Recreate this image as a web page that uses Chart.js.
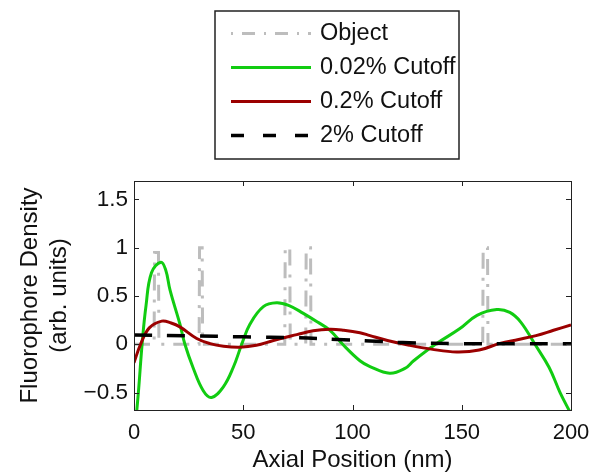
<!DOCTYPE html>
<html>
<head>
<meta charset="utf-8">
<script src="https://cdn.jsdelivr.net/npm/chart.js@4"></script>
<style>
  html, body { margin: 0; padding: 0; background: #fff; }
  canvas { display: block; }
</style>
</head>
<body>
<canvas id="chart-cutoff" width="602" height="475"></canvas>
<script>
// Axial positions (nm) and values
const objectX = [0, 9.2, 9.4, 11.2, 11.4, 29.8, 30, 31.2, 31.4, 69, 69.2, 71.3, 71.5, 78.6, 78.8, 80.8, 81, 159.6, 159.8, 161.8, 162, 200];
const objectY = [0, 0, 0.95, 0.95, 0, 0, 1, 1, 0, 0, 1, 1, 0, 0, 1, 1, 0, 0, 1, 1, 0, 0];

const greenX = [0, 2, 3.7, 5.5, 8, 12.3, 14.5, 16.5, 21, 23.3, 27, 31.7, 35.5, 40.9, 45.5, 49.3, 53.1, 59.2, 65.3, 71, 77.5, 84, 89.7, 95.5, 103.4, 108, 117, 124, 128, 138, 149, 157, 166, 172, 177, 183.5, 190, 195, 200];
const greenY = [-1.0, -0.5, 0, 0.4, 0.74, 0.85, 0.77, 0.56, 0.21, 0, -0.24, -0.48, -0.55, -0.44, -0.235, 0, 0.21, 0.39, 0.43, 0.40, 0.32, 0.23, 0.145, 0, -0.17, -0.23, -0.30, -0.25, -0.17, 0, 0.16, 0.30, 0.36, 0.33, 0.23, 0, -0.24, -0.5, -0.72];

const redX = [0, 3, 7, 12.7, 17, 21, 28.7, 34.8, 41, 48.5, 56, 63.8, 74.5, 82, 89.7, 96, 103.4, 108, 116, 126, 136, 147.7, 158, 167.5, 176, 184, 192, 200];
const redY = [-0.19, 0, 0.17, 0.24, 0.22, 0.18, 0.06, 0.007, -0.02, -0.03, -0.01, 0.04, 0.10, 0.14, 0.155, 0.145, 0.12, 0.09, 0.04, -0.01, -0.05, -0.08, -0.06, 0.01, 0.05, 0.09, 0.145, 0.2];

const blackX = [0, 25, 50, 75, 93, 108, 123, 150, 175, 200];
const blackY = [0.095, 0.088, 0.077, 0.068, 0.05, 0.035, 0.018, 0.007, 0.006, 0.005];

const seriesLabels = ['Object', '0.02% Cutoff', '0.2% Cutoff', '2% Cutoff'];
const xTicks = [0, 50, 100, 150, 200];
const yTicks = [-0.5, 0, 0.5, 1, 1.5];

const FONT = 'Liberation Sans, Arial, Helvetica, sans-serif';

const toPoints = (xs, ys) => xs.map((x, i) => ({ x: x, y: ys[i] }));

// Boxed axes with inward tick marks on all four sides (MATLAB style)
const boxTicks = {
  id: 'boxTicks',
  afterDatasetsDraw(chart) {
    const { ctx, chartArea: a, scales } = chart;
    const len = 5;
    ctx.save();
    ctx.strokeStyle = '#222';
    ctx.lineWidth = 1;
    ctx.beginPath();
    scales.x.ticks.forEach(t => {
      const px = Math.round(scales.x.getPixelForValue(t.value)) + 0.5;
      ctx.moveTo(px, a.bottom); ctx.lineTo(px, a.bottom - len);
      ctx.moveTo(px, a.top); ctx.lineTo(px, a.top + len);
    });
    scales.y.ticks.forEach(t => {
      const py = Math.round(scales.y.getPixelForValue(t.value)) + 0.5;
      ctx.moveTo(a.left, py); ctx.lineTo(a.left + len, py);
      ctx.moveTo(a.right, py); ctx.lineTo(a.right - len, py);
    });
    ctx.stroke();
    ctx.strokeRect(Math.round(a.left) + 0.5, Math.round(a.top) + 0.5,
      Math.round(a.right - a.left), Math.round(a.bottom - a.top));
    ctx.restore();
  }
};

// Legend box above the axes
const boxLegend = {
  id: 'boxLegend',
  afterDraw(chart) {
    const { ctx } = chart;
    const box = { left: 215, top: 11, right: 459, bottom: 159 };
    ctx.save();
    ctx.fillStyle = '#fff';
    ctx.fillRect(box.left, box.top, box.right - box.left, box.bottom - box.top);
    ctx.strokeStyle = '#222';
    ctx.lineWidth = 1.5;
    ctx.strokeRect(box.left, box.top, box.right - box.left, box.bottom - box.top);

    ctx.font = '23.5px ' + FONT;
    ctx.textBaseline = 'middle';
    ctx.textAlign = 'left';
    chart.data.datasets.forEach((ds, i) => {
      const y = 33.5 + i * 34;
      ctx.beginPath();
      ctx.strokeStyle = ds.borderColor;
      ctx.lineWidth = ds.borderWidth;
      ctx.setLineDash(ds.legendDash || []);
      ctx.moveTo(231, y);
      ctx.lineTo(311, y);
      ctx.stroke();
      ctx.setLineDash([]);
      ctx.fillStyle = '#111';
      ctx.fillText(ds.label, 320, y);
    });
    ctx.restore();
  }
};

const ctx = document.getElementById('chart-cutoff');

new Chart(ctx, {
  type: 'line',
  data: {
    datasets: [{
      label: seriesLabels[0],
      data: toPoints(objectX, objectY),
      borderColor: '#bdbdbd',
      borderWidth: 3,
      borderDash: [16, 9, 3, 9],
      legendDash: [2, 9, 13, 9],
      tension: 0,
      order: 4
    }, {
      label: seriesLabels[1],
      data: toPoints(greenX, greenY),
      borderColor: '#11cc11',
      borderWidth: 3,
      tension: 0.4,
      order: 3
    }, {
      label: seriesLabels[2],
      data: toPoints(redX, redY),
      borderColor: '#9b0000',
      borderWidth: 3,
      tension: 0.4,
      order: 2
    }, {
      label: seriesLabels[3],
      data: toPoints(blackX, blackY),
      borderColor: '#000',
      borderWidth: 3.5,
      borderDash: [18, 15],
      legendDash: [13, 19],
      tension: 0.4,
      order: 1
    }]
  },
  options: {
    responsive: false,
    animation: false,
    devicePixelRatio: 1,
    layout: {
      padding: { top: 181, right: 31, left: 0, bottom: 0 }
    },
    elements: {
      point: { radius: 0 }
    },
    plugins: {
      legend: { display: false },
      tooltip: { enabled: false }
    },
    scales: {
      x: {
        type: 'linear',
        min: 0,
        max: 200,
        afterBuildTicks: scale => {
          scale.ticks = xTicks.map(v => ({ value: v }));
        },
        afterFit: scale => { scale.height = 65; },
        grid: { display: false, drawTicks: false },
        border: { display: false },
        ticks: {
          padding: 10,
          color: '#111',
          font: { family: FONT, size: 22 }
        },
        title: {
          display: true,
          text: 'Axial Position (nm)',
          color: '#111',
          font: { family: FONT, size: 24 },
          padding: { top: 0, bottom: 0 }
        }
      },
      y: {
        type: 'linear',
        min: -0.68,
        max: 1.69,
        afterBuildTicks: scale => {
          scale.ticks = yTicks.map(v => ({ value: v }));
        },
        afterFit: scale => { scale.width = 134; },
        grid: { display: false, drawTicks: false },
        border: { display: false },
        ticks: {
          padding: 6,
          color: '#111',
          font: { family: FONT, size: 22.5 },
          callback: v => (v < 0 ? '\u2212' + Math.abs(v) : String(v))
        },
        title: {
          display: true,
          text: ['Fluorophore Density', '(arb. units)'],
          color: '#111',
          font: { family: FONT, size: 24 },
          padding: { top: 16, bottom: 0 }
        }
      }
    }
  },
  plugins: [boxTicks, boxLegend]
});
</script>
</body>
</html>
